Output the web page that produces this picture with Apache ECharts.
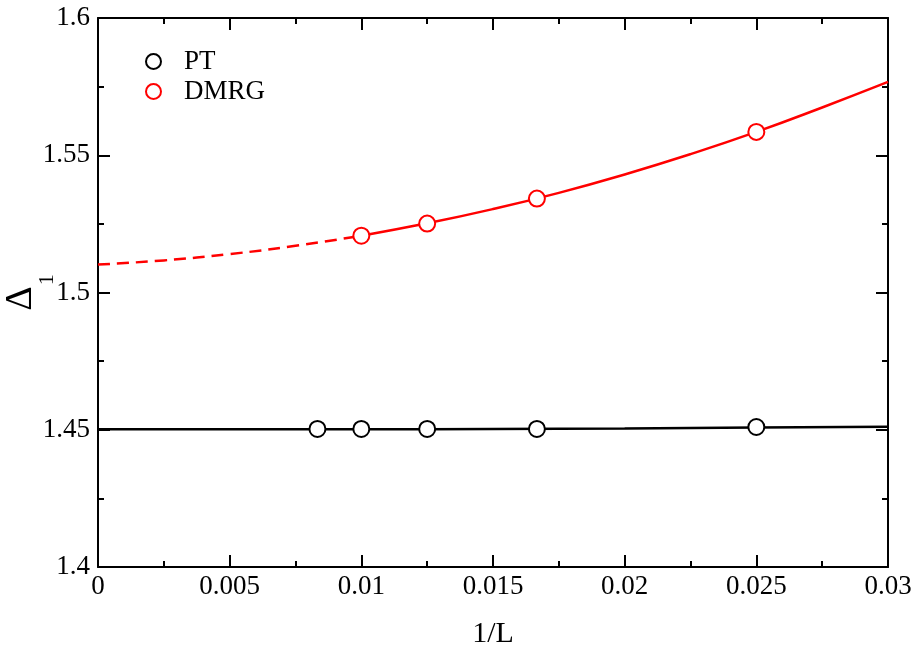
<!DOCTYPE html>
<html>
<head>
<meta charset="utf-8">
<script src="https://cdn.jsdelivr.net/npm/echarts@6/dist/echarts.min.js"></script>
<style>
  html, body { margin: 0; padding: 0; background: #fff; }
  #chart { width: 914px; height: 645px; }
</style>
</head>
<body>
<div id="chart"></div>
<script>
// Axis ranges and tick spacing
const xTicks = [0, 0.005, 0.01, 0.015, 0.02, 0.025, 0.03];
const yTicks = [1.4, 1.45, 1.5, 1.55, 1.6];

// Inverse system size 1/L for L = 120, 100, 80, 60, 40
const ptX = [0.008333, 0.01, 0.0125, 0.016667, 0.025];
const ptY = [1.4503, 1.4503, 1.4503, 1.4503, 1.4510];

const dmrgX = [0.01, 0.0125, 0.016667, 0.025];
const dmrgY = [1.5207, 1.5251, 1.5342, 1.5585];

// Fitted curves (extrapolation toward 1/L -> 0)
const ptFitX = [0, 0.005, 0.01, 0.015, 0.02, 0.025, 0.03];
const ptFitY = [1.4502, 1.4502, 1.4502, 1.4503, 1.4505, 1.4508, 1.4511];

const dmrgFitDashX = [0, 0.0025, 0.005, 0.0075, 0.01];
const dmrgFitDashY = [1.5102, 1.5117, 1.5140, 1.5170, 1.5207];
const dmrgFitX = [0.01, 0.0125, 0.015, 0.0175, 0.02, 0.0225, 0.025, 0.0275, 0.03];
const dmrgFitY = [1.5207, 1.5252, 1.5304, 1.5363, 1.5430, 1.5504, 1.5585, 1.5674, 1.5767];

const zip = (xs, ys) => xs.map((x, i) => [x, ys[i]]);

const FONT = '"Liberation Serif", "Times New Roman", serif';

const baseX = {
  type: 'value',
  min: xTicks[0],
  max: xTicks[xTicks.length - 1],
  interval: xTicks[1] - xTicks[0],
  splitLine: { show: false },
  axisLine: { show: true, onZero: false, lineStyle: { color: '#000', width: 2 } },
  axisTick: { show: true, inside: true, length: 12, lineStyle: { color: '#000', width: 2 } },
  minorTick: { show: true, splitNumber: 2, length: 6, lineStyle: { color: '#000', width: 2 } },
  minorSplitLine: { show: false }
};
const baseY = {
  type: 'value',
  min: yTicks[0],
  max: yTicks[yTicks.length - 1],
  interval: yTicks[1] - yTicks[0],
  splitLine: { show: false },
  axisLine: { show: true, onZero: false, lineStyle: { color: '#000', width: 2 } },
  axisTick: { show: true, inside: true, length: 12, lineStyle: { color: '#000', width: 2 } },
  minorTick: { show: true, splitNumber: 2, length: 6, lineStyle: { color: '#000', width: 2 } },
  minorSplitLine: { show: false }
};

const chart = echarts.init(document.getElementById('chart'), null, { renderer: 'canvas' });

chart.setOption({
  animation: false,
  backgroundColor: '#fff',
  grid: { left: 98, right: 26, top: 18, bottom: 78, containLabel: false, outerBoundsMode: 'none' },
  legend: {
    data: ['PT', 'DMRG'],
    orient: 'vertical',
    left: 140,
    top: 43,
    itemWidth: 15,
    itemHeight: 15,
    itemGap: 3,
    textStyle: { fontFamily: FONT, fontSize: 27, lineHeight: 24, color: '#000', padding: [0, 0, 0, 18] }
  },
  xAxis: [
    Object.assign({}, baseX, {
      position: 'bottom',
      name: '1/L',
      nameLocation: 'middle',
      nameGap: 52,
      nameMoveOverlap: false,
      nameTextStyle: { fontFamily: FONT, fontSize: 30, color: '#000' },
      axisLabel: { fontFamily: FONT, fontSize: 27, color: '#000', margin: 6 }
    }),
    Object.assign({}, baseX, { position: 'top', axisLabel: { show: false } })
  ],
  yAxis: [
    Object.assign({}, baseY, {
      position: 'left',
      name: '\u0394{sub|1}',
      nameLocation: 'middle',
      nameGap: 58,
      nameMoveOverlap: false,
      nameRotate: 90,
      nameTextStyle: {
        fontFamily: FONT, fontSize: 38, color: '#000',
        rich: { sub: { fontFamily: FONT, fontSize: 22, color: '#000', verticalAlign: 'bottom', padding: [0, 0, -18, 1] } }
      },
      axisLabel: { fontFamily: FONT, fontSize: 27, color: '#000', margin: 8 }
    }),
    Object.assign({}, baseY, { position: 'right', axisLabel: { show: false } })
  ],
  series: [
    {
      name: 'PT fit', type: 'line', data: zip(ptFitX, ptFitY), smooth: true,
      showSymbol: false, symbol: 'none', lineStyle: { color: '#000', width: 2.5 }, z: 2
    },
    {
      name: 'DMRG fit extrapolation', type: 'line', data: zip(dmrgFitDashX, dmrgFitDashY), smooth: true,
      showSymbol: false, symbol: 'none', lineStyle: { color: '#ff0000', width: 2.5, type: [12, 7] }, z: 2
    },
    {
      name: 'DMRG fit', type: 'line', data: zip(dmrgFitX, dmrgFitY), smooth: true,
      showSymbol: false, symbol: 'none', lineStyle: { color: '#ff0000', width: 2.5 }, z: 2
    },
    {
      name: 'PT', type: 'scatter', data: zip(ptX, ptY), symbol: 'emptyCircle', symbolSize: 16,
      itemStyle: { color: '#000', borderWidth: 2.5, opacity: 1 }, z: 3
    },
    {
      name: 'DMRG', type: 'scatter', data: zip(dmrgX, dmrgY), symbol: 'emptyCircle', symbolSize: 16,
      itemStyle: { color: '#ff0000', borderWidth: 2.5, opacity: 1 }, z: 3
    }
  ]
});
</script>
</body>
</html>
